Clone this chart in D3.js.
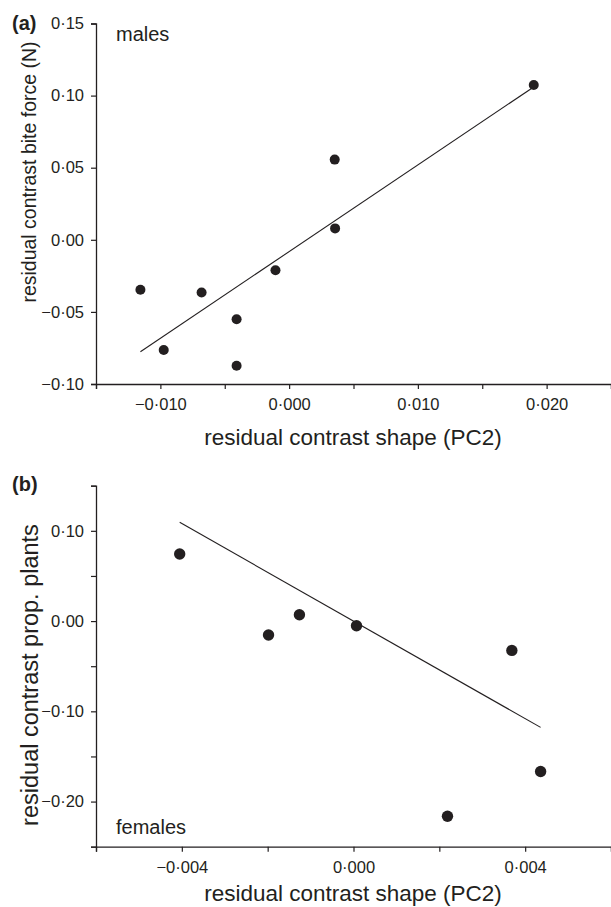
<!DOCTYPE html>
<html>
<head>
<meta charset="utf-8">
<script src="https://cdn.jsdelivr.net/npm/d3@7"></script>
<style>
  body { margin: 0; background: #fff; }
  svg { font-family: "Liberation Sans", Arial, sans-serif; }
</style>
</head>
<body>
<svg id="chart" width="611" height="907"></svg>
<script>
// panel (a) males: bite force vs shape
const malesShape = [-0.01155, -0.00974, -0.0068, -0.00408, -0.00408, -0.00106, 0.00357, 0.00354, 0.0190];
const malesBite = [-0.0347, -0.0764, -0.0366, -0.0551, -0.0873, -0.0211, 0.0079, 0.0556, 0.1074];
const malesFitX = [-0.01155, 0.0190];
const malesFitY = [-0.0776, 0.1060];

// panel (b) females: prop. plants vs shape
const femalesShape = [-0.00405, -0.00198, -0.00126, 0.00007, 0.00369, 0.00436, 0.00219];
const femalesPlants = [0.0743, -0.0155, 0.0070, -0.0052, -0.0325, -0.1667, -0.2162];
const femalesFitX = [-0.00405, 0.00436];
const femalesFitY = [0.1094, -0.1178];

// tick values
const aXTicks = [-0.015, -0.010, -0.005, 0.000, 0.005, 0.010, 0.015, 0.020, 0.025];
const aXLabels = [-0.010, 0.000, 0.010, 0.020];
const aYTicks = [-0.10, -0.05, 0.00, 0.05, 0.10, 0.15];
const bXTicks = [-0.006, -0.004, -0.002, 0.000, 0.002, 0.004, 0.006];
const bXLabels = [-0.004, 0.000, 0.004];
const bYTicks = [-0.25, -0.20, -0.15, -0.10, -0.05, 0.00, 0.05, 0.10, 0.15];
const bYLabels = [-0.20, -0.10, 0.00, 0.10];

const ink = "#231f20";
const svg = d3.select("#chart");

// 0·10 style numbers with a real minus sign
function fmt(digits) {
    return v => {
        const s = Math.abs(v).toFixed(digits).replace(".", "\u00b7");
        return (v < -1e-9 ? "\u2212" : "") + s;
    };
}

function panel(p) {
    const x = d3.scaleLinear().domain(p.xDomain).range([96, 611]);
    const y = d3.scaleLinear().domain(p.yDomain).range([p.bottom, p.top]);
    const g = svg.append("g");

    const xFmt = fmt(3), yFmt = fmt(2);
    const xAxis = d3.axisBottom(x).tickValues(p.xTicks).tickSizeOuter(0).tickSize(5).tickPadding(6)
        .tickFormat(d => p.xLabels.some(l => Math.abs(l - d) < 1e-9) ? xFmt(d) : "");
    const yAxis = d3.axisLeft(y).tickValues(p.yTicks).tickSizeOuter(0).tickSize(5).tickPadding(7)
        .tickFormat(d => p.yLabels.some(l => Math.abs(l - d) < 1e-9) ? yFmt(d) : "");

    const ax = g.append("g").attr("transform", `translate(0,${p.bottom})`).call(xAxis);
    const ay = g.append("g").attr("transform", "translate(96,0)").call(yAxis);
    [ax, ay].forEach(a => {
        a.select(".domain").attr("stroke", ink).attr("stroke-width", 1.3);
        a.selectAll(".tick line").attr("stroke", ink).attr("stroke-width", 1.2);
        a.selectAll("text").attr("fill", ink).style("font-size", "16.5px");
    });
    ax.selectAll("text").attr("dy", "0.9em");

    const pts = p.xs.map((v, i) => [v, p.ys[i]]);
    const fit = p.fitX.map((v, i) => [v, p.fitY[i]]);

    g.append("path")
        .datum(fit)
        .attr("fill", "none")
        .attr("stroke", ink)
        .attr("stroke-width", 1.1)
        .attr("d", d3.line().x(d => x(d[0])).y(d => y(d[1])));

    g.selectAll(".dot")
        .data(pts)
        .enter()
        .append("circle")
        .attr("cx", d => x(d[0]))
        .attr("cy", d => y(d[1]))
        .attr("r", p.r)
        .attr("fill", ink);

    g.append("text")
        .attr("x", 12).attr("y", p.tagY)
        .style("font-size", "20px").style("font-weight", "bold")
        .attr("fill", ink)
        .text(p.tag);

    g.append("text")
        .attr("x", 116).attr("y", p.groupY)
        .style("font-size", "20px")
        .attr("fill", ink)
        .text(p.group);

    g.append("text")
        .attr("transform", `translate(${p.yTitleX},${p.yTitleY}) rotate(-90)`)
        .attr("text-anchor", "middle")
        .style("font-size", p.yTitleSize)
        .attr("fill", ink)
        .text(p.yTitle);

    g.append("text")
        .attr("x", 353).attr("y", p.xTitleY)
        .attr("text-anchor", "middle")
        .style("font-size", "22.5px")
        .attr("fill", ink)
        .text("residual contrast shape (PC2)");
}

panel({
    xDomain: [-0.015, 0.025], yDomain: [-0.10, 0.15], top: 23.5, bottom: 384,
    xTicks: aXTicks, xLabels: aXLabels, yTicks: aYTicks, yLabels: aYTicks,
    xs: malesShape, ys: malesBite, fitX: malesFitX, fitY: malesFitY, r: 5,
    tag: "(a)", tagY: 30, group: "males", groupY: 41,
    yTitle: "residual contrast bite force (N)", yTitleX: 36, yTitleY: 172, yTitleSize: "19.5px",
    xTitleY: 445
});

panel({
    xDomain: [-0.006, 0.006], yDomain: [-0.25, 0.15], top: 485.7, bottom: 846.7,
    xTicks: bXTicks, xLabels: bXLabels, yTicks: bYTicks, yLabels: bYLabels,
    xs: femalesShape, ys: femalesPlants, fitX: femalesFitX, fitY: femalesFitY, r: 5.7,
    tag: "(b)", tagY: 491, group: "females", groupY: 834,
    yTitle: "residual contrast prop.  plants", yTitleX: 38, yTitleY: 675, yTitleSize: "23.5px",
    xTitleY: 901
});
</script>
</body>
</html>
